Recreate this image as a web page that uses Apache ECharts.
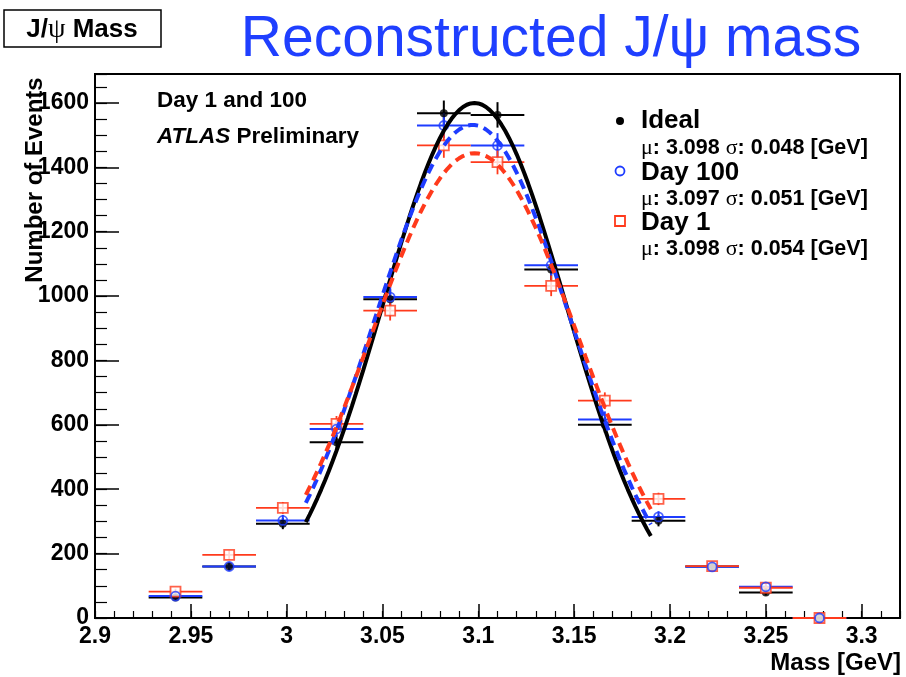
<!DOCTYPE html>
<html>
<head>
<meta charset="utf-8">
<script src="https://cdn.jsdelivr.net/npm/echarts@6/dist/echarts.min.js"></script>
<style>
  html, body { margin: 0; padding: 0; background: #fff; }
  #chart { width: 906px; height: 677px; }
</style>
</head>
<body>
<div id="chart"></div>
<script>
// Histogram bins (GeV) and event counts per sample
const binCenters   = [2.942, 2.970, 2.998, 3.026, 3.054, 3.082, 3.110, 3.138, 3.166, 3.194, 3.222, 3.250, 3.278];
const binHalfWidth = 0.014;
const idealCounts  = [64, 160, 293, 546, 990, 1568, 1563, 1083, 600, 302, 160, 79, 0];
const day100Counts = [68, 160, 303, 587, 997, 1530, 1468, 1096, 617, 314, 159, 97, 0];
const day1Counts   = [82, 196, 342, 603, 955, 1468, 1416, 1032, 675, 370, 161, 94, 0];

// Gaussian fit results: [Ideal, Day 100, Day 1]
const fitNames  = ['Ideal', 'Day 100', 'Day 1'];
const fitMu     = [3.098, 3.097, 3.098];
const fitSigma  = [0.048, 0.051, 0.054];
const fitAmp    = [1600, 1532, 1444];
const fitRange  = [3.01, 3.19];

// Axis ranges and ticks
const xMin = 2.9, xMax = 3.32, xMajor = 0.05, xMinor = 0.01;
const yMin = 0, yMax = 1690, yMajor = 200, yMinor = 50;

const BLACK = '#000000';
const BLUE  = '#1e3cff';
const RED   = '#ff3a1c';
const FONT  = '"Liberation Sans", Helvetica, Arial, sans-serif';
const SERIF = '"Liberation Serif", "Times New Roman", serif';

function gaussCurve(i) {
  const pts = [];
  const n = 90;
  for (let k = 0; k <= n; k++) {
    const x = fitRange[0] + (fitRange[1] - fitRange[0]) * k / n;
    const d = (x - fitMu[i]) / fitSigma[i];
    pts.push([x, fitAmp[i] * Math.exp(-0.5 * d * d)]);
  }
  return pts;
}

function toPoints(counts) {
  return binCenters.map((c, i) => [c, counts[i]]);
}

// Horizontal bin-width bar plus vertical sqrt(N) error bar
function errorBars(color, width) {
  return function (params, api) {
    const x = api.value(0), y = api.value(1);
    const e = Math.sqrt(y);
    const l = api.coord([x - binHalfWidth, y]);
    const r = api.coord([x + binHalfWidth, y]);
    const t = api.coord([x, y + e]);
    const b = api.coord([x, Math.max(0, y - e)]);
    const style = { stroke: color, lineWidth: width };
    return {
      type: 'group',
      children: [
        { type: 'line', shape: { x1: l[0], y1: l[1], x2: r[0], y2: r[1] }, style },
        { type: 'line', shape: { x1: t[0], y1: t[1], x2: b[0], y2: b[1] }, style }
      ]
    };
  };
}

function fmtX(v) {
  const k = v / xMajor;
  if (Math.abs(k - Math.round(k)) > 1e-6) return '';
  return String(+v.toFixed(2));
}
function fmtY(v) {
  const k = v / yMajor;
  if (Math.abs(k - Math.round(k)) > 1e-6) return '';
  return String(Math.round(v));
}

const labelStyle = { color: '#000', fontFamily: FONT, fontWeight: 'bold', fontSize: 23 };

const chart = echarts.init(document.getElementById('chart'), null, { renderer: 'canvas' });

const option = {
  animation: false,
  backgroundColor: '#fff',
  grid: {
    left: 95, right: 6, top: 74, bottom: 59,
    show: true, borderColor: '#000', borderWidth: 2, backgroundColor: 'transparent'
  },
  xAxis: [
    {
      type: 'value', min: xMin, max: xMax, interval: xMajor,
      axisLine: { show: true, onZero: false, lineStyle: { color: '#000', width: 2 } },
      axisTick: { show: true, inside: true, length: 14, lineStyle: { color: '#000', width: 1.5 } },
      axisLabel: { ...labelStyle, margin: 7, formatter: fmtX, showMaxLabel: false },
      splitLine: { show: false }
    },
    {
      type: 'value', min: xMin, max: xMax, interval: xMinor, position: 'bottom',
      axisLine: { show: false },
      axisTick: { show: true, inside: true, length: 7, lineStyle: { color: '#000', width: 1.2 } },
      axisLabel: { show: false },
      splitLine: { show: false }
    }
  ],
  yAxis: [
    {
      type: 'value', min: yMin, max: yMax, interval: yMajor,
      axisLine: { show: true, onZero: false, lineStyle: { color: '#000', width: 2 } },
      axisTick: { show: true, inside: true, length: 24, lineStyle: { color: '#000', width: 1.5 } },
      axisLabel: { ...labelStyle, margin: 6, formatter: fmtY, showMaxLabel: false },
      splitLine: { show: false }
    },
    {
      type: 'value', min: yMin, max: yMax, interval: yMinor, position: 'left',
      axisLine: { show: false },
      axisTick: { show: true, inside: true, length: 12, lineStyle: { color: '#000', width: 1.2 } },
      axisLabel: { show: false },
      splitLine: { show: false }
    }
  ],
  series: [
    // Ideal
    { type: 'custom', name: 'Ideal bars', data: toPoints(idealCounts), renderItem: errorBars(BLACK, 2), z: 3 },
    { type: 'scatter', name: 'Ideal', data: toPoints(idealCounts), symbol: 'circle', symbolSize: 8,
      itemStyle: { color: BLACK }, z: 4 },
    // Day 100
    { type: 'custom', name: 'Day 100 bars', data: toPoints(day100Counts), renderItem: errorBars(BLUE, 2), z: 3 },
    { type: 'scatter', name: 'Day 100', data: toPoints(day100Counts), symbol: 'circle', symbolSize: 9,
      itemStyle: { color: 'rgba(255,255,255,0)', borderColor: BLUE, borderWidth: 1.8 }, z: 5 },
    // Day 1
    { type: 'custom', name: 'Day 1 bars', data: toPoints(day1Counts), renderItem: errorBars(RED, 1.8), z: 3 },
    { type: 'scatter', name: 'Day 1', data: toPoints(day1Counts), symbol: 'rect', symbolSize: 10,
      itemStyle: { color: '#fff', borderColor: RED, borderWidth: 1.8 }, z: 4 },
    // Gaussian fits
    { type: 'line', name: 'Ideal fit', data: gaussCurve(0), showSymbol: false, smooth: false,
      lineStyle: { color: BLACK, width: 4 }, z: 6 },
    { type: 'line', name: 'Day 100 fit', data: gaussCurve(1), showSymbol: false, smooth: false,
      lineStyle: { color: BLUE, width: 4, type: [10, 6] }, z: 6 },
    { type: 'line', name: 'Day 1 fit', data: gaussCurve(2), showSymbol: false, smooth: false,
      lineStyle: { color: RED, width: 4, type: [10, 6] }, z: 6 }
  ],
  graphic: [
    // Label box
    { type: 'rect', shape: { x: 4, y: 10, width: 157, height: 37 },
      style: { fill: '#fff', stroke: '#000', lineWidth: 1.5 } },
    { type: 'text', x: 82, y: 30,
      style: { text: 'J/{g|ψ} Mass', fill: '#000', font: 'bold 26px ' + FONT,
               align: 'center', verticalAlign: 'middle',
               rich: { g: { fontFamily: SERIF, fontWeight: 'normal', fontSize: 28 } } } },
    // Title
    { type: 'text', x: 551, y: 40,
      style: { text: 'Reconstructed J/ψ mass', fill: '#1f3fff', font: '57px ' + FONT,
               align: 'center', verticalAlign: 'middle' } },
    // Annotations
    { type: 'text', x: 157, y: 101,
      style: { text: 'Day 1 and 100', fill: '#000', font: 'bold 22.5px ' + FONT, align: 'left', verticalAlign: 'middle' } },
    { type: 'text', x: 157, y: 137,
      style: { text: '{i|ATLAS} Preliminary', fill: '#000', font: 'bold 22.5px ' + FONT, align: 'left', verticalAlign: 'middle',
               rich: { i: { fontStyle: 'italic', fontWeight: 'bold', fontSize: 22.5, fontFamily: FONT } } } },
    // Legend markers
    { type: 'circle', shape: { cx: 620, cy: 121, r: 4 }, style: { fill: BLACK } },
    { type: 'circle', shape: { cx: 620, cy: 171, r: 4.5 }, style: { fill: '#fff', stroke: BLUE, lineWidth: 1.8 } },
    { type: 'rect', shape: { x: 615, y: 216, width: 10, height: 10 }, style: { fill: '#fff', stroke: RED, lineWidth: 1.8 } },
    // Legend labels
    ...[121, 173, 223].map((yy, i) => ({
      type: 'text', x: 641, y: yy,
      style: { text: fitNames[i], fill: '#000', font: 'bold 26px ' + FONT, align: 'left', verticalAlign: 'middle' }
    })),
    ...[148, 199, 249].map((yy, i) => ({
      type: 'text', x: 641, y: yy,
      style: {
        text: '{g|μ}: ' + fitMu[i].toFixed(3) + ' {g|σ}: ' + fitSigma[i].toFixed(3) + ' [GeV]',
        fill: '#000', font: 'bold 21.5px ' + FONT, align: 'left', verticalAlign: 'middle',
        rich: { g: { fontFamily: SERIF, fontWeight: 'normal', fontSize: 22 } }
      }
    })),
    // Axis titles
    { type: 'text', x: 35, y: 180, rotation: Math.PI / 2,
      style: { text: 'Number of Events', fill: '#000', font: 'bold 24px ' + FONT, align: 'center', verticalAlign: 'middle' } },
    { type: 'text', x: 901, y: 663,
      style: { text: 'Mass [GeV]', fill: '#000', font: 'bold 24px ' + FONT, align: 'right', verticalAlign: 'middle' } }
  ]
};

chart.setOption(option);
</script>
</body>
</html>
